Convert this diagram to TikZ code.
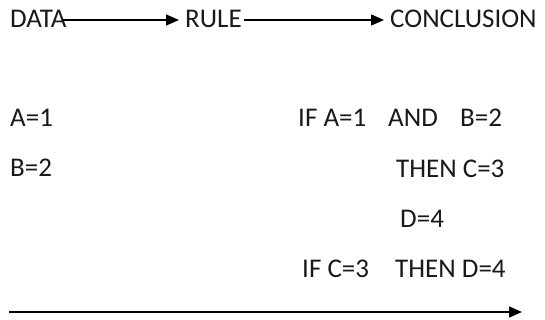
\documentclass[tikz,border=0pt]{standalone}
\usepackage{fontspec}
\setmainfont{Carlito}
\usetikzlibrary{arrows.meta}
\begin{document}
\begin{tikzpicture}[x=1pt,y=-1pt,
  txt/.style={anchor=base west,inner sep=0pt,font=\fontsize{27}{31}\selectfont,text=black!90},
  arr/.style={line width=1.5pt,-{Triangle[length=13pt,width=11pt]}}]
\useasboundingbox (0,0) rectangle (545,320);
\node[txt] (data) at (10,28) {DATA};
\node[txt] (rule) at (185,28) {RULE};
\node[txt] (concl) at (390,28) {CONCLUSION};
\coordinate (d1) at (62,20);
\coordinate (r1) at (179,20);
\coordinate (r2) at (244,20);
\coordinate (c1) at (384,20);
\draw[arr] (d1) -- (r1);
\draw[arr] (r2) -- (c1);
\node[txt] (a1) at (10,127) {A=1};
\node[txt] (b2) at (10,177) {B=2};
\node[txt] (ifa) at (298,127) {IF A=1};
\node[txt] (and) at (388,127) {AND};
\node[txt] (bb) at (460,127) {B=2};
\node[txt] (thenc) at (396,178) {THEN C=3};
\node[txt] (d4) at (400,227) {D=4};
\node[txt] (ifc) at (302,277) {IF C=3};
\node[txt] (thend) at (395,277) {THEN D=4};
\coordinate (s) at (9,312);
\coordinate (e) at (522,312);
\draw[arr] (s) -- (e);
\end{tikzpicture}
\end{document}
